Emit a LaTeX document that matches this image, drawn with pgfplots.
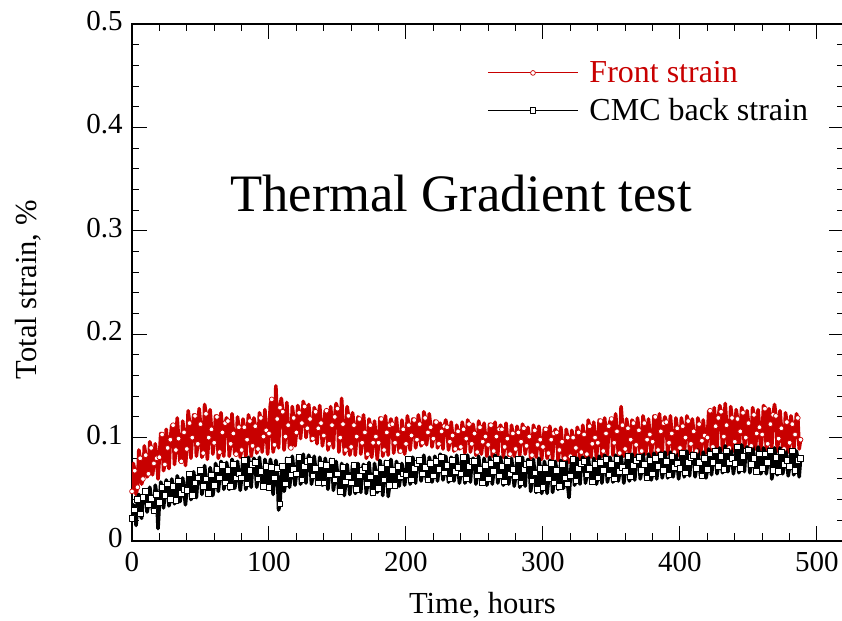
\documentclass[border=0pt]{standalone}
\usepackage{pgfplots}
\pgfplotsset{compat=1.18}
\usepackage{pgfplotstable}
\usepackage{fontspec}
\setmainfont{Liberation Serif}
\usetikzlibrary{calc}
\definecolor{frontred}{RGB}{200,0,0}

% front strain, hourly readings
\pgfplotstableread[row sep=\\]{
t s\\
0 .048\\1 .075\\2 .068\\3 .045\\4 .052\\5 .088\\6 .080\\7 .055\\8 .060\\9 .092\\
10 .083\\11 .062\\12 .065\\13 .096\\14 .090\\15 .064\\16 .075\\17 .094\\18 .080\\19 .060\\
20 .081\\21 .104\\22 .103\\23 .068\\24 .074\\25 .108\\26 .090\\27 .070\\28 .098\\29 .112\\
30 .112\\31 .074\\32 .088\\33 .119\\34 .099\\35 .077\\36 .077\\37 .116\\38 .105\\39 .073\\
40 .089\\41 .126\\42 .114\\43 .080\\44 .100\\45 .122\\46 .121\\47 .082\\48 .094\\49 .128\\
50 .113\\51 .081\\52 .085\\53 .132\\54 .123\\55 .079\\56 .100\\57 .127\\58 .108\\59 .084\\
60 .095\\61 .121\\62 .120\\63 .080\\64 .086\\65 .124\\66 .105\\67 .082\\68 .114\\69 .119\\
70 .116\\71 .082\\72 .094\\73 .123\\74 .104\\75 .084\\76 .084\\77 .120\\78 .110\\79 .081\\
80 .088\\81 .118\\82 .110\\83 .080\\84 .098\\85 .122\\86 .116\\87 .082\\88 .092\\89 .119\\
90 .111\\91 .085\\92 .089\\93 .124\\94 .119\\95 .086\\96 .101\\97 .127\\98 .107\\99 .084\\
100 .104\\101 .132\\102 .137\\103 .086\\104 .093\\105 .150\\106 .118\\107 .090\\108 .129\\109 .138\\
110 .125\\111 .088\\112 .101\\113 .134\\114 .112\\115 .090\\116 .090\\117 .130\\118 .119\\119 .092\\
120 .105\\121 .131\\122 .124\\123 .099\\124 .114\\125 .135\\126 .130\\127 .100\\128 .109\\129 .132\\
130 .118\\131 .097\\132 .099\\133 .129\\134 .125\\135 .094\\136 .109\\137 .131\\138 .114\\139 .092\\
140 .102\\141 .126\\142 .126\\143 .088\\144 .094\\145 .130\\146 .112\\147 .090\\148 .120\\149 .133\\
150 .128\\151 .086\\152 .100\\153 .138\\154 .113\\155 .084\\156 .088\\157 .130\\158 .121\\159 .083\\
160 .091\\161 .124\\162 .112\\163 .083\\164 .101\\165 .120\\166 .118\\167 .084\\168 .095\\169 .122\\
170 .105\\171 .080\\172 .084\\173 .118\\174 .112\\175 .081\\176 .095\\177 .116\\178 .101\\179 .079\\
180 .095\\181 .119\\182 .118\\183 .082\\184 .088\\185 .121\\186 .105\\187 .083\\188 .112\\189 .118\\
190 .113\\191 .085\\192 .095\\193 .119\\194 .103\\195 .086\\196 .087\\197 .117\\198 .108\\199 .084\\
200 .094\\201 .121\\202 .112\\203 .088\\204 .102\\205 .118\\206 .117\\207 .090\\208 .098\\209 .122\\
210 .113\\211 .092\\212 .095\\213 .125\\214 .119\\215 .093\\216 .105\\217 .123\\218 .110\\219 .091\\
220 .099\\221 .116\\222 .115\\223 .090\\224 .094\\225 .114\\226 .106\\227 .089\\228 .111\\229 .117\\
230 .110\\231 .088\\232 .096\\233 .115\\234 .102\\235 .087\\236 .089\\237 .112\\238 .106\\239 .089\\
240 .091\\241 .115\\242 .108\\243 .085\\244 .099\\245 .117\\246 .113\\247 .086\\248 .094\\249 .113\\
250 .104\\251 .083\\252 .086\\253 .116\\254 .110\\255 .084\\256 .096\\257 .114\\258 .101\\259 .082\\
260 .093\\261 .113\\262 .112\\263 .082\\264 .087\\265 .115\\266 .101\\267 .083\\268 .108\\269 .112\\
270 .108\\271 .081\\272 .091\\273 .114\\274 .099\\275 .083\\276 .084\\277 .112\\278 .104\\279 .082\\
280 .089\\281 .111\\282 .105\\283 .083\\284 .096\\285 .113\\286 .109\\287 .084\\288 .092\\289 .110\\
290 .101\\291 .080\\292 .083\\293 .112\\294 .107\\295 .081\\296 .093\\297 .111\\298 .098\\299 .079\\
300 .091\\301 .109\\302 .108\\303 .080\\304 .085\\305 .111\\306 .098\\307 .079\\308 .104\\309 .108\\
310 .105\\311 .078\\312 .088\\313 .110\\314 .096\\315 .077\\316 .080\\317 .108\\318 .100\\319 .076\\
320 .082\\321 .107\\322 .100\\323 .074\\324 .090\\325 .110\\326 .105\\327 .076\\328 .086\\329 .112\\
330 .103\\331 .079\\332 .084\\333 .117\\334 .111\\335 .081\\336 .094\\337 .115\\338 .100\\339 .080\\
340 .095\\341 .117\\342 .116\\343 .082\\344 .087\\345 .119\\346 .104\\347 .083\\348 .111\\349 .116\\
350 .118\\351 .083\\352 .095\\353 .123\\354 .106\\355 .084\\356 .085\\357 .130\\358 .112\\359 .082\\
360 .089\\361 .118\\362 .109\\363 .082\\364 .098\\365 .117\\366 .114\\367 .083\\368 .093\\369 .119\\
370 .107\\371 .083\\372 .087\\373 .121\\374 .114\\375 .084\\376 .098\\377 .118\\378 .103\\379 .082\\
380 .096\\381 .121\\382 .120\\383 .082\\384 .088\\385 .123\\386 .106\\387 .083\\388 .114\\389 .120\\
390 .115\\391 .084\\392 .095\\393 .121\\394 .104\\395 .085\\396 .086\\397 .119\\398 .109\\399 .083\\
400 .090\\401 .119\\402 .111\\403 .083\\404 .100\\405 .121\\406 .116\\407 .084\\408 .094\\409 .118\\
410 .106\\411 .083\\412 .087\\413 .119\\414 .113\\415 .084\\416 .097\\417 .117\\418 .102\\419 .085\\
420 .100\\421 .126\\422 .126\\423 .085\\424 .091\\425 .129\\426 .111\\427 .087\\428 .119\\429 .131\\
430 .125\\431 .088\\432 .101\\433 .133\\434 .112\\435 .089\\436 .090\\437 .130\\438 .119\\439 .087\\
440 .096\\441 .127\\442 .118\\443 .088\\444 .106\\445 .129\\446 .124\\447 .089\\448 .100\\449 .126\\
450 .114\\451 .088\\452 .092\\453 .129\\454 .122\\455 .089\\456 .104\\457 .127\\458 .110\\459 .087\\
460 .103\\461 .131\\462 .128\\463 .088\\464 .094\\465 .128\\466 .113\\467 .090\\468 .122\\469 .132\\
470 .121\\471 .087\\472 .099\\473 .126\\474 .109\\475 .088\\476 .089\\477 .124\\478 .115\\479 .086\\
480 .095\\481 .121\\482 .113\\483 .088\\484 .103\\485 .123\\486 .119\\487 .089\\488 .098\\
}\front

% CMC back strain, hourly readings
\pgfplotstableread[row sep=\\]{
t s\\
0 .022\\1 .035\\2 .030\\3 .015\\4 .040\\5 .045\\6 .026\\7 .022\\8 .042\\9 .048\\
10 .048\\11 .028\\12 .035\\13 .052\\14 .041\\15 .030\\16 .029\\17 .054\\18 .045\\19 .012\\
20 .037\\21 .057\\22 .052\\23 .032\\24 .044\\25 .059\\26 .055\\27 .034\\28 .040\\29 .060\\
30 .053\\31 .036\\32 .039\\33 .063\\34 .058\\35 .038\\36 .046\\37 .061\\38 .050\\39 .035\\
40 .049\\41 .065\\42 .065\\43 .040\\44 .044\\45 .067\\46 .056\\47 .042\\48 .061\\49 .066\\
50 .068\\51 .045\\52 .053\\53 .073\\54 .060\\55 .046\\56 .046\\57 .071\\58 .064\\59 .044\\
60 .054\\61 .075\\62 .069\\63 .048\\64 .061\\65 .077\\66 .073\\67 .050\\68 .056\\69 .076\\
70 .068\\71 .050\\72 .053\\73 .079\\74 .074\\75 .051\\76 .061\\77 .077\\78 .065\\79 .049\\
80 .061\\81 .079\\82 .078\\83 .050\\84 .055\\85 .081\\86 .068\\87 .052\\88 .074\\89 .080\\
90 .076\\91 .052\\92 .060\\93 .081\\94 .067\\95 .053\\96 .053\\97 .079\\98 .072\\99 .051\\
100 .052\\101 .079\\102 .071\\103 .045\\104 .061\\105 .078\\106 .070\\107 .030\\108 .036\\109 .062\\
110 .072\\111 .048\\112 .055\\113 .080\\114 .078\\115 .052\\116 .064\\117 .082\\118 .069\\119 .054\\
120 .065\\121 .082\\122 .081\\123 .055\\124 .059\\125 .084\\126 .072\\127 .056\\128 .077\\129 .083\\
130 .078\\131 .055\\132 .063\\133 .082\\134 .070\\135 .056\\136 .056\\137 .081\\138 .074\\139 .054\\
140 .056\\141 .080\\142 .073\\143 .050\\144 .064\\145 .079\\146 .077\\147 .049\\148 .059\\149 .077\\
150 .065\\151 .046\\152 .048\\153 .075\\154 .071\\155 .044\\156 .057\\157 .074\\158 .062\\159 .045\\
160 .056\\161 .073\\162 .073\\163 .046\\164 .050\\165 .075\\166 .063\\167 .047\\168 .068\\169 .074\\
170 .071\\171 .046\\172 .055\\173 .076\\174 .062\\175 .045\\176 .047\\177 .075\\178 .066\\179 .047\\
180 .051\\181 .078\\182 .070\\183 .044\\184 .059\\185 .077\\186 .075\\187 .043\\188 .054\\189 .079\\
190 .068\\191 .052\\192 .054\\193 .077\\194 .072\\195 .053\\196 .062\\197 .075\\198 .065\\199 .054\\
200 .064\\201 .080\\202 .079\\203 .055\\204 .059\\205 .081\\206 .070\\207 .056\\208 .075\\209 .079\\
210 .078\\211 .058\\212 .065\\213 .083\\214 .071\\215 .059\\216 .059\\217 .081\\218 .075\\219 .057\\
220 .063\\221 .082\\222 .077\\223 .058\\224 .069\\225 .084\\226 .081\\227 .059\\228 .066\\229 .082\\
230 .073\\231 .057\\232 .060\\233 .081\\234 .078\\235 .058\\236 .067\\237 .083\\238 .071\\239 .056\\
240 .065\\241 .081\\242 .081\\243 .056\\244 .060\\245 .083\\246 .072\\247 .057\\248 .077\\249 .080\\
250 .077\\251 .055\\252 .063\\253 .082\\254 .069\\255 .056\\256 .056\\257 .080\\258 .073\\259 .054\\
260 .060\\261 .081\\262 .075\\263 .055\\264 .067\\265 .083\\266 .079\\267 .056\\268 .063\\269 .081\\
270 .072\\271 .054\\272 .057\\273 .081\\274 .077\\275 .055\\276 .065\\277 .080\\278 .069\\279 .053\\
280 .062\\281 .079\\282 .079\\283 .052\\284 .056\\285 .081\\286 .069\\287 .053\\288 .074\\289 .079\\
290 .075\\291 .048\\292 .058\\293 .079\\294 .066\\295 .047\\296 .050\\297 .080\\298 .070\\299 .046\\
300 .052\\301 .077\\302 .070\\303 .046\\304 .060\\305 .078\\306 .075\\307 .047\\308 .056\\309 .077\\
310 .068\\311 .050\\312 .053\\313 .078\\314 .074\\315 .051\\316 .061\\317 .077\\318 .055\\319 .042\\
320 .063\\321 .079\\322 .079\\323 .054\\324 .058\\325 .080\\326 .070\\327 .055\\328 .075\\329 .081\\
330 .077\\331 .056\\332 .064\\333 .081\\334 .070\\335 .057\\336 .057\\337 .080\\338 .074\\339 .055\\
340 .061\\341 .082\\342 .076\\343 .056\\344 .068\\345 .083\\346 .079\\347 .057\\348 .064\\349 .081\\
350 .074\\351 .057\\352 .060\\353 .083\\354 .079\\355 .058\\356 .067\\357 .082\\358 .071\\359 .056\\
360 .067\\361 .082\\362 .082\\363 .058\\364 .062\\365 .084\\366 .073\\367 .059\\368 .078\\369 .083\\
370 .081\\371 .060\\372 .068\\373 .085\\374 .074\\375 .061\\376 .061\\377 .084\\378 .078\\379 .059\\
380 .065\\381 .085\\382 .080\\383 .060\\384 .072\\385 .087\\386 .083\\387 .061\\388 .068\\389 .086\\
390 .077\\391 .061\\392 .064\\393 .086\\394 .082\\395 .062\\396 .071\\397 .085\\398 .075\\399 .060\\
400 .070\\401 .086\\402 .085\\403 .062\\404 .066\\405 .087\\406 .076\\407 .063\\408 .081\\409 .085\\
410 .083\\411 .062\\412 .070\\413 .088\\414 .076\\415 .063\\416 .063\\417 .086\\418 .080\\419 .061\\
420 .069\\421 .089\\422 .084\\423 .064\\424 .076\\425 .091\\426 .087\\427 .065\\428 .072\\429 .090\\
430 .082\\431 .066\\432 .069\\433 .092\\434 .087\\435 .067\\436 .076\\437 .090\\438 .080\\439 .065\\
440 .075\\441 .091\\442 .091\\443 .066\\444 .070\\445 .093\\446 .082\\447 .067\\448 .087\\449 .091\\
450 .088\\451 .066\\452 .074\\453 .092\\454 .080\\455 .067\\456 .067\\457 .091\\458 .084\\459 .065\\
460 .070\\461 .090\\462 .084\\463 .065\\464 .076\\465 .089\\466 .087\\467 .060\\468 .068\\469 .090\\
470 .081\\471 .064\\472 .067\\473 .090\\474 .086\\475 .065\\476 .074\\477 .089\\478 .078\\479 .063\\
480 .072\\481 .088\\482 .087\\483 .064\\484 .068\\485 .087\\486 .078\\487 .062\\488 .080\\
}\back

\begin{document}
\begin{tikzpicture}
\begin{axis}[
    name=ax,
    scale only axis,
    width=356.2pt, height=258.5pt,
    xmin=0, xmax=520, ymin=0, ymax=0.5,
    xtick={0,100,200,300,400,500},
    ytick={0,0.1,0.2,0.3,0.4,0.5},
    minor x tick num=4, minor y tick num=4,
    tick pos=both, tick align=inside,
    major tick length=7.5pt, minor tick length=3.75pt,
    axis line style={line width=1pt},
    every tick/.style={black, line width=0.5pt},
    /pgf/number format/assume math mode=true,
    ticklabel style={font=\fontsize{14.5}{17}\selectfont},
    xticklabel style={yshift=-2.2pt},
    yticklabel style={xshift=-1.2pt, yshift=1.5pt},
    xlabel={Time, hours},
    ylabel={Total strain, \%},
    label style={font=\fontsize{15.3}{18}\selectfont},
    xlabel style={at={(axis description cs:0.492,-0.1393)}, anchor=base},
    ylabel style={at={(axis description cs:-0.1334,0.486)}, anchor=base},
    legend style={draw=none, fill=none, at={(axis description cs:0.49,0.945)},
        anchor=north west, font=\fontsize{16}{19}\selectfont,
        row sep=2.5pt, column sep=3.5pt},
    legend cell align=left,
    legend image code/.code={\draw[#1, line width=0.5pt, mark repeat=2, mark phase=2]
        plot coordinates {(0pt,0pt) (22.5pt,0pt) (45pt,0pt)};},
]
\addplot[frontred, line width=1.8pt, line join=round, mark=*, mark repeat=2, mark size=1.2pt,
    mark options={fill=white, draw=frontred, line width=0.35pt, solid}]
    table[x=t, y=s]{\front};
\addlegendentry{\textcolor{frontred}{Front strain}}
\addplot[black, line width=1.8pt, line join=round, mark=square*, mark repeat=2, mark size=1.4pt,
    mark options={fill=white, draw=black, line width=0.45pt, solid}]
    table[x=t, y=s]{\back};
\addlegendentry{CMC back strain}
\node[font=\fontsize{26.3}{30}\selectfont, anchor=base]
    at (axis description cs:0.4618,0.6364) {Thermal Gradient test};
\end{axis}
\pgfresetboundingbox
\path ($(ax.south west)+(-66pt,-40pt)$) rectangle ($(ax.north east)+(-1.2pt,12pt)$);
\end{tikzpicture}
\end{document}
